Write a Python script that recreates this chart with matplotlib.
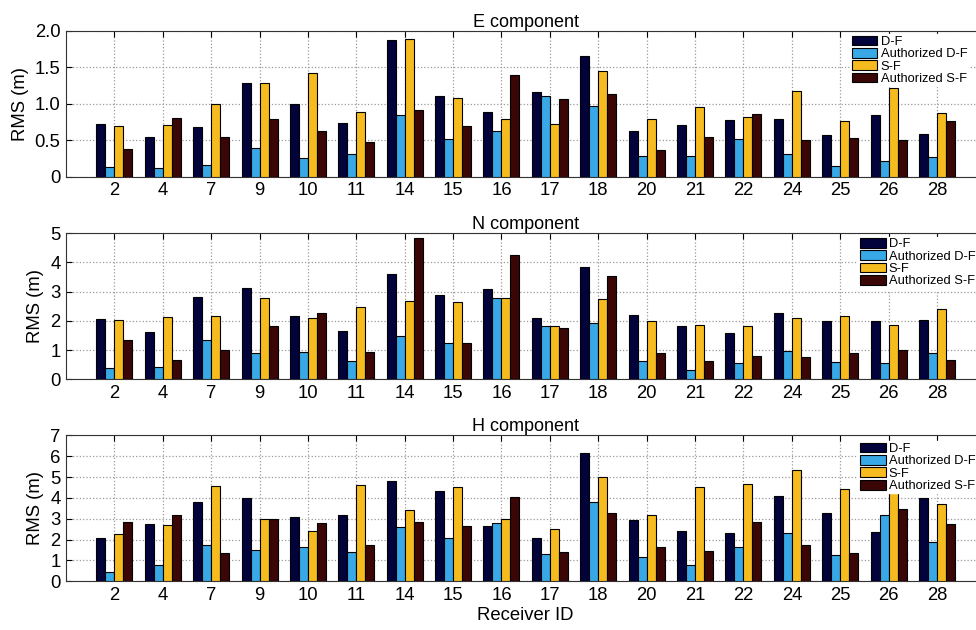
import numpy as np
import matplotlib
matplotlib.use("Agg")
import matplotlib.pyplot as plt

plt.rcParams['font.family'] = ['Liberation Sans', 'DejaVu Sans']

receivers = ['2', '4', '7', '9', '10', '11', '14', '15', '16',
             '17', '18', '20', '21', '22', '24', '25', '26', '28']
series = ['D-F', 'Authorized D-F', 'S-F', 'Authorized S-F']
colors = ['#03033c', '#38a8e6', '#f6bc1f', '#3a0606']

# E component
e_df = [0.72, 0.54, 0.68, 1.29, 1.00, 0.73, 1.87, 1.11, 0.88,
        1.16, 1.66, 0.63, 0.71, 0.78, 0.79, 0.57, 0.84, 0.58]
e_adf = [0.13, 0.12, 0.16, 0.39, 0.26, 0.31, 0.84, 0.52, 0.62,
         1.11, 0.97, 0.28, 0.28, 0.51, 0.31, 0.15, 0.22, 0.27]
e_sf = [0.69, 0.71, 0.99, 1.29, 1.42, 0.88, 1.89, 1.08, 0.79,
        0.72, 1.45, 0.79, 0.95, 0.82, 1.18, 0.77, 1.21, 0.87]
e_asf = [0.38, 0.81, 0.55, 0.79, 0.63, 0.47, 0.91, 0.70, 1.40,
         1.06, 1.14, 0.36, 0.55, 0.86, 0.50, 0.53, 0.50, 0.76]

# N component
n_df = [2.08, 1.61, 2.81, 3.14, 2.16, 1.66, 3.59, 2.89, 3.08,
        2.09, 3.86, 2.19, 1.83, 1.58, 2.26, 2.00, 2.00, 2.02]
n_adf = [0.37, 0.41, 1.34, 0.89, 0.93, 0.61, 1.48, 1.23, 2.79,
         1.81, 1.94, 0.61, 0.32, 0.54, 0.96, 0.58, 0.57, 0.89]
n_sf = [2.02, 2.12, 2.18, 2.78, 2.10, 2.47, 2.69, 2.66, 2.79,
        1.81, 2.75, 1.98, 1.86, 1.83, 2.09, 2.16, 1.86, 2.39]
n_asf = [1.33, 0.65, 1.00, 1.83, 2.27, 0.94, 4.84, 1.24, 4.24,
         1.75, 3.54, 0.89, 0.63, 0.81, 0.77, 0.89, 1.01, 0.65]

# H component
h_df = [2.06, 2.76, 3.82, 3.99, 3.10, 3.19, 4.82, 4.33, 2.67,
        2.06, 6.13, 2.96, 2.41, 2.32, 4.09, 3.26, 2.35, 3.98]
h_adf = [0.45, 0.77, 1.74, 1.50, 1.63, 1.39, 2.59, 2.06, 2.81,
         1.33, 3.79, 1.17, 0.80, 1.66, 2.33, 1.28, 3.18, 1.88]
h_sf = [2.28, 2.72, 4.58, 2.99, 2.40, 4.63, 3.40, 4.52, 2.99,
        2.51, 5.02, 3.19, 4.50, 4.65, 5.32, 4.41, 4.60, 3.72]
h_asf = [2.84, 3.16, 1.34, 2.99, 2.78, 1.76, 2.84, 2.67, 4.03,
         1.42, 3.26, 1.65, 1.47, 2.83, 1.74, 1.34, 3.47, 2.73]

panels = [
    ('E component', [e_df, e_adf, e_sf, e_asf], 2.0, [0, 0.5, 1.0, 1.5, 2.0],
     ['0', '0.5', '1.0', '1.5', '2.0'], 0.7195, (0.853, 0.975)),
    ('N component', [n_df, n_adf, n_sf, n_asf], 5, [0, 1, 2, 3, 4, 5],
     ['0', '1', '2', '3', '4', '5'], 0.398, (0.862, 0.977)),
    ('H component', [h_df, h_adf, h_sf, h_asf], 7, list(range(8)),
     [str(i) for i in range(8)], 0.0773, (0.862, 0.958)),
]

fig = plt.figure(figsize=(9.76, 6.30), dpi=100)
x = np.arange(1, len(receivers) + 1)
w = 0.186
fs = 13.3

for title, vals, ymax, yt, ytl, bottom, leg_pos in panels:
    ax = fig.add_axes([0.0676, bottom, 0.942, 0.2317])
    for i, (v, c) in enumerate(zip(vals, colors)):
        ax.bar(x + (i - 1.5) * w, v, width=w, color=c, edgecolor='black',
               linewidth=0.8, label=series[i], zorder=3)
    ax.set_xlim(0, 19)
    ax.set_ylim(0, ymax)
    ax.set_xticks(x)
    ax.set_xticklabels(receivers, fontsize=fs)
    ax.set_yticks(yt)
    ax.set_yticklabels(ytl, fontsize=fs)
    ax.grid(True, linestyle=':', color='#9a9a9a', linewidth=0.9)
    ax.set_axisbelow(True)
    ax.tick_params(direction='in', top=True, right=True, length=4,
                   width=0.8, pad=4)
    for s in ax.spines.values():
        s.set_color('#333333')
        s.set_linewidth(0.8)
    ax.set_title(title, fontsize=13, pad=3)
    ax.set_ylabel('RMS (m)', fontsize=fs, labelpad=4)
    leg = ax.legend(loc='upper left', bbox_to_anchor=leg_pos, fontsize=9.3,
                    frameon=True, fancybox=False, framealpha=1,
                    edgecolor='white', facecolor='white', borderpad=0.1,
                    labelspacing=0.0, handlelength=2.0, handleheight=0.78,
                    handletextpad=0.25, borderaxespad=0)
    leg.set_zorder(5)

ax.set_xlabel('Receiver ID', fontsize=fs, labelpad=2)

fig.savefig('out.png', dpi=100)
